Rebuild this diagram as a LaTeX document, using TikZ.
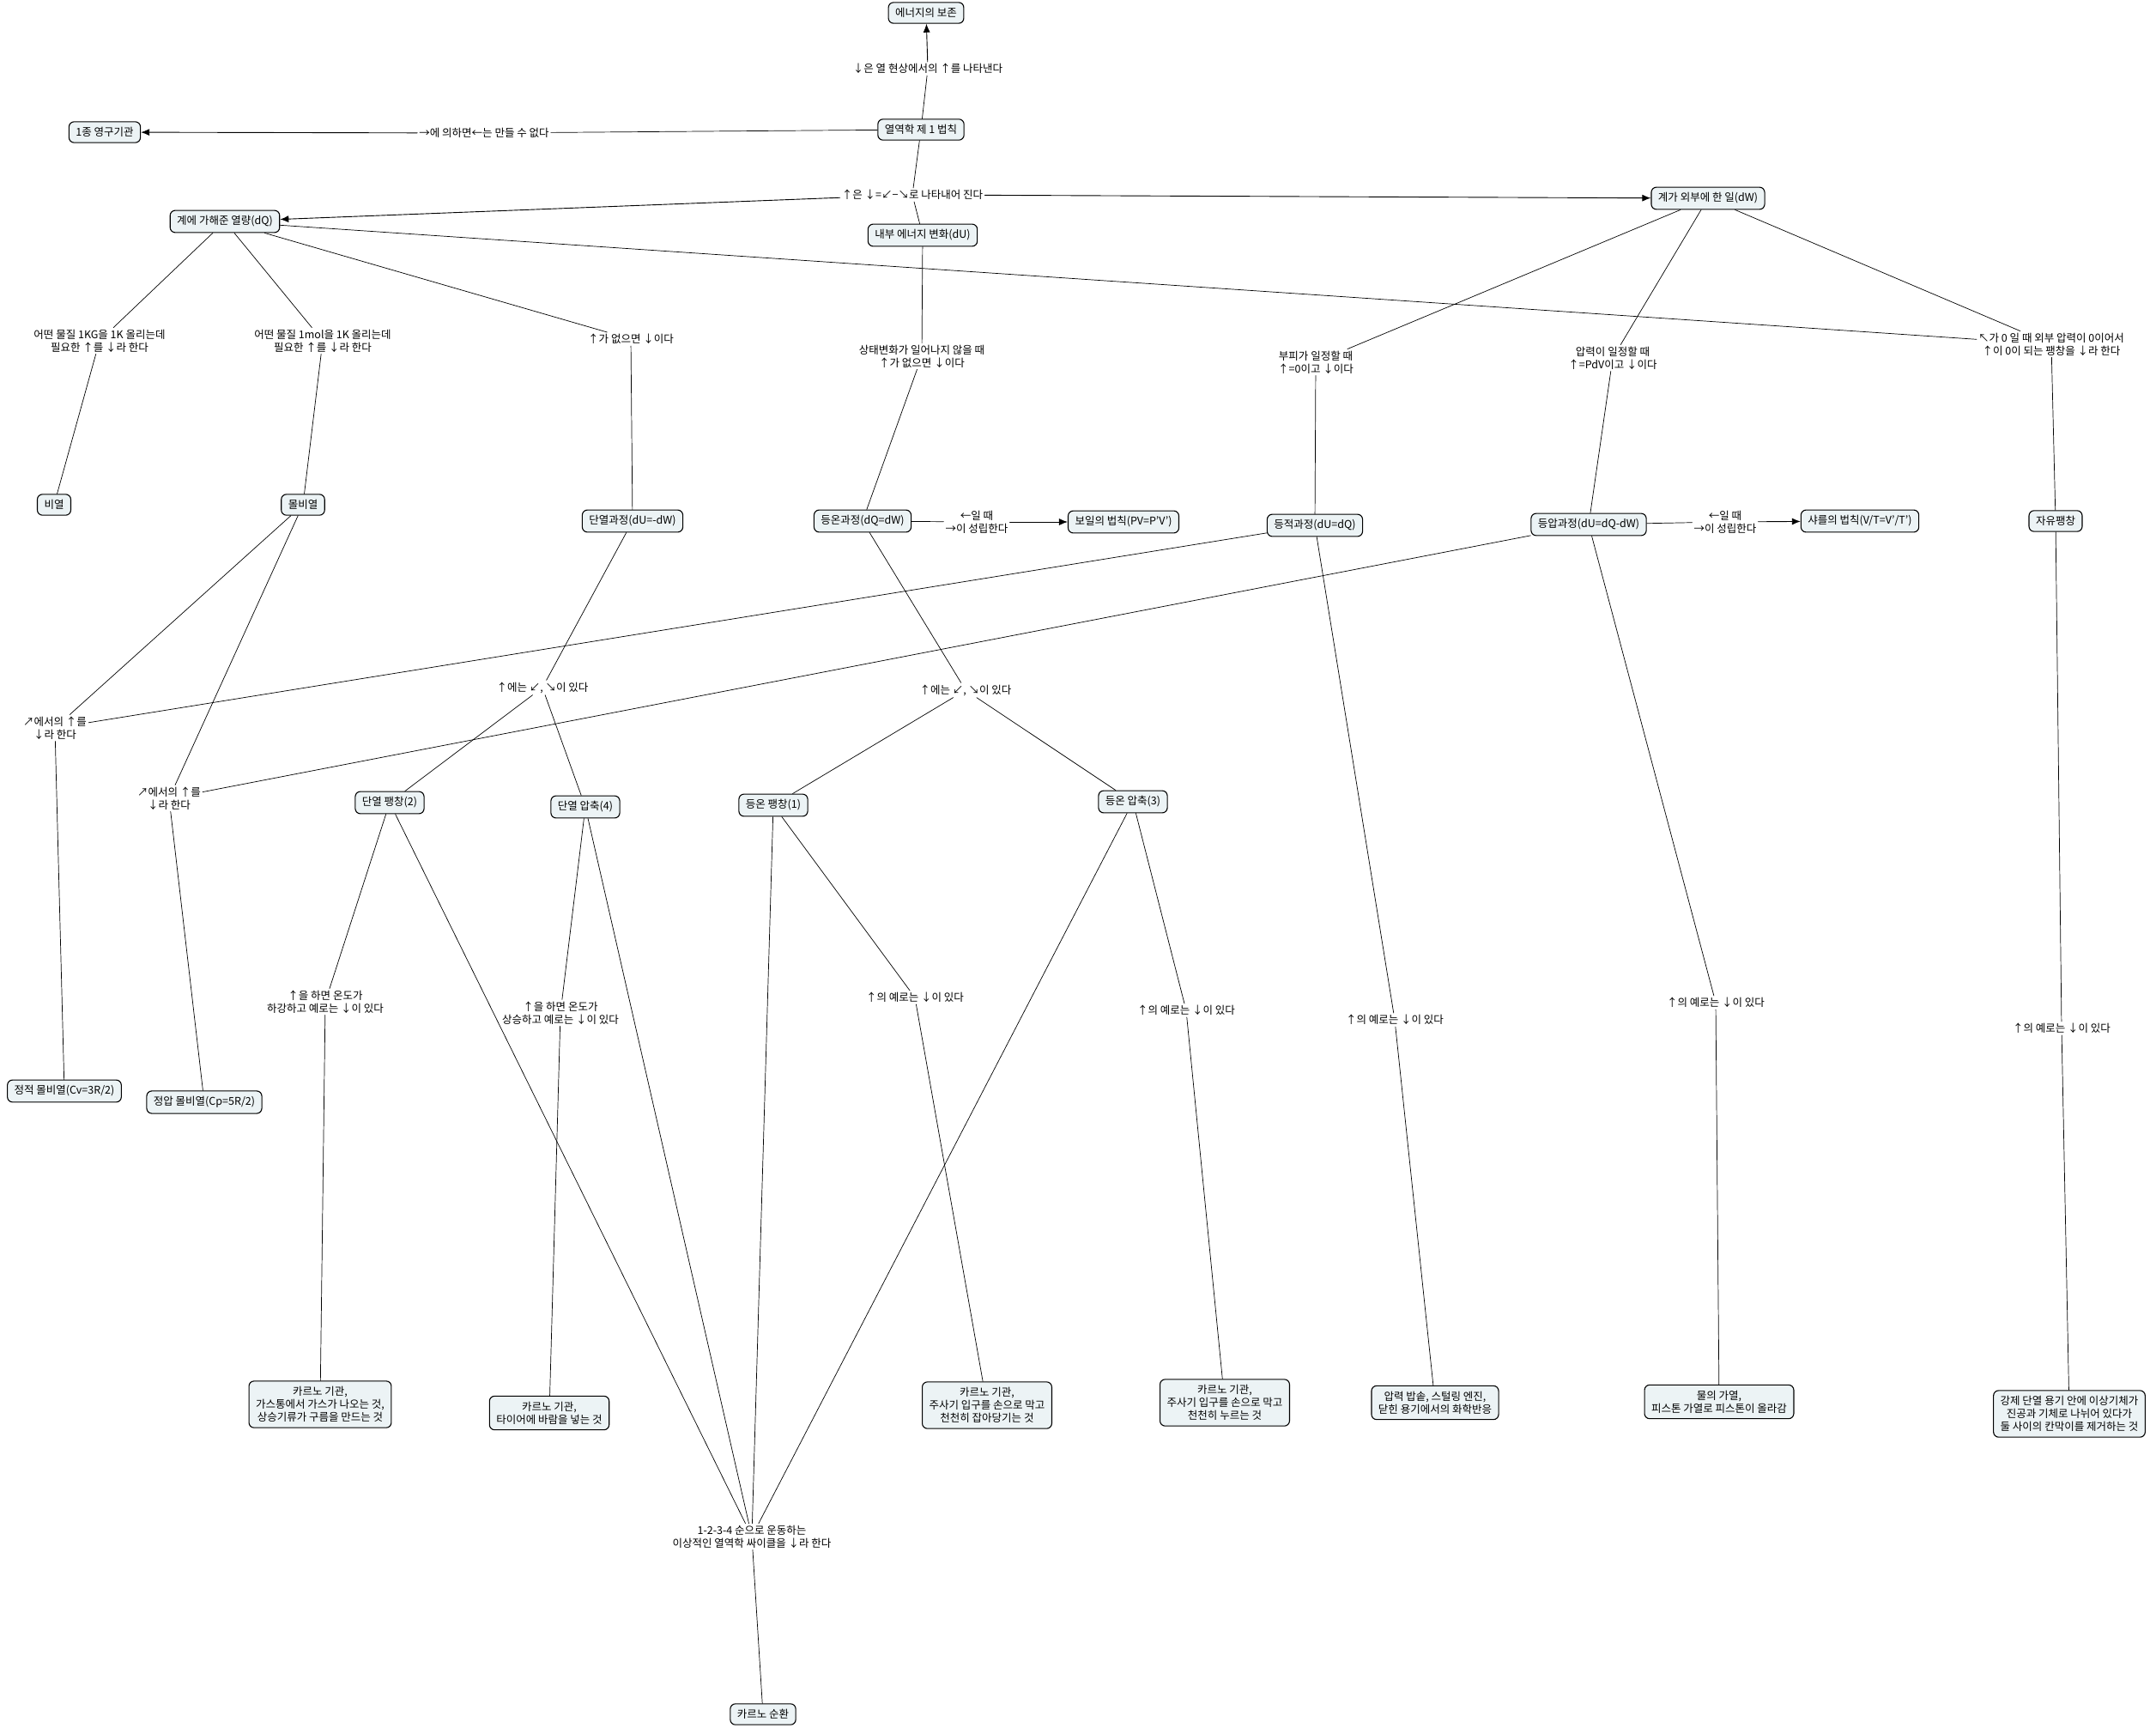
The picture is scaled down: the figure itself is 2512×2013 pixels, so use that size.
\documentclass[tikz,border=0pt]{standalone}
\usepackage{fontspec}
\setmainfont{Noto Sans CJK KR}
\usetikzlibrary{arrows.meta}
\definecolor{boxfill}{RGB}{236,243,245}
\begin{document}
\begin{tikzpicture}[x=1pt,y=-1pt,font=\fontsize{12.5}{15}\selectfont,line join=round,line cap=round,>={Latex[length=10pt,width=8pt]},
	box/.style={draw,rounded corners=6pt,fill=boxfill,line width=1.1pt,inner xsep=8pt,inner ysep=6.5pt,align=center},
	link/.style={inner sep=2pt,align=center}]
	\useasboundingbox (0,0) rectangle (2512,2013);
	% concepts
	\node[box] (energy) at (1079,15) {에너지의 보존};
	\node[box] (first) at (1073,151) {열역학 제 1 법칙};
	\node[box] (perpetual) at (122,154) {1종 영구기관};
	\node[box] (heat) at (262,258) {계에 가해준 열량(dQ)};
	\node[box] (dU) at (1075,274) {내부 에너지 변화(dU)};
	\node[box] (work) at (1990,231) {계가 외부에 한 일(dW)};
	\node[box] (bi) at (63,588) {비열};
	\node[box] (molbi) at (353,588) {몰비열};
	\node[box] (adia) at (737,607) {단열과정(dU=-dW)};
	\node[box] (iso) at (1005,607) {등온과정(dQ=dW)};
	\node[box] (boyle) at (1309,608) {보일의 법칙(PV=P'V')};
	\node[box] (isoch) at (1532,612) {등적과정(dU=dQ)};
	\node[box] (isob) at (1851,611) {등압과정(dU=dQ-dW)};
	\node[box] (charles) at (2167,607) {샤를의 법칙(V/T=V'/T')};
	\node[box] (free) at (2395,607) {자유팽창};
	\node[box] (adexp) at (454,935) {단열 팽창(2)};
	\node[box] (adcomp) at (682,940) {단열 압축(4)};
	\node[box] (isexp) at (901,938) {등온 팽창(1)};
	\node[box] (iscomp) at (1320,934) {등온 압축(3)};
	\node[box] (cv) at (75,1271) {정적 몰비열(Cv=3R/2)};
	\node[box] (cp) at (238,1284) {정압 몰비열(Cp=5R/2)};
	\node[box] (ex1) at (373,1636) {카르노 기관,\\가스통에서 가스가 나오는 것,\\상승기류가 구름을 만드는 것};
	\node[box] (ex2) at (640,1646) {카르노 기관,\\타이어에 바람을 넣는 것};
	\node[box] (ex3) at (1150,1637) {카르노 기관,\\주사기 입구를 손으로 막고\\천천히 잡아당기는 것};
	\node[box] (ex4) at (1427,1634) {카르노 기관,\\주사기 입구를 손으로 막고\\천천히 누르는 것};
	\node[box] (ex5) at (1672,1634) {압력 밥솥, 스털링 엔진,\\닫힌 용기에서의 화학반응};
	\node[box] (ex6) at (2003,1633) {물의 가열,\\피스톤 가열로 피스톤이 올라감};
	\node[box] (ex7) at (2411,1647) {강제 단열 용기 안에 이상기체가\\진공과 기체로 나뉘어 있다가\\둘 사이의 칸막이를 제거하는 것};
	\node[box] (carnot) at (889,1997) {카르노 순환};
	% linking phrases
	\node[link] (l1) at (1081,80) {↓은 열 현상에서의 ↑를 나타낸다};
	\node[link] (l2) at (564,155) {→에 의하면←는 만들 수 없다};
	\node[link] (l3) at (1063,227) {↑은 ↓=↙−↘로 나타내어 진다};
	\node[link] (l4) at (116,397) {어떤 물질 1KG을 1K 올리는데\\필요한 ↑를 ↓라 한다};
	\node[link] (l5) at (376,397) {어떤 물질 1mol을 1K 올리는데\\필요한 ↑를 ↓라 한다};
	\node[link] (l6) at (735,395) {↑가 없으면 ↓이다};
	\node[link] (l7) at (2390,401) {↖가 0 일 때 외부 압력이 0이어서\\↑이 0이 되는 팽창을 ↓라 한다};
	\node[link] (l8) at (1533,422) {부피가 일정할 때\\↑=0이고 ↓이다};
	\node[link] (l9) at (1879,417) {압력이 일정할 때\\↑=PdV이고 ↓이다};
	\node[link] (l10) at (1074,415) {상태변화가 일어나지 않을 때\\↑가 없으면 ↓이다};
	\node[link] (l11) at (1138,608) {←일 때\\→이 성립한다};
	\node[link] (l12) at (2010,608) {←일 때\\→이 성립한다};
	\node[link] (l13) at (64,848) {↗에서의 ↑를\\↓라 한다};
	\node[link] (l14) at (197,930) {↗에서의 ↑를\\↓라 한다};
	\node[link] (l15) at (632,801) {↑에는 ↙, ↘이 있다};
	\node[link] (l16) at (1125,804) {↑에는 ↙, ↘이 있다};
	\node[link] (l17) at (379,1167) {↑을 하면 온도가\\하강하고 예로는 ↓이 있다};
	\node[link] (l18) at (653,1180) {↑을 하면 온도가\\상승하고 예로는 ↓이 있다};
	\node[link] (l19) at (1066,1162) {↑의 예로는 ↓이 있다};
	\node[link] (l20) at (1382,1177) {↑의 예로는 ↓이 있다};
	\node[link] (l21) at (1625,1188) {↑의 예로는 ↓이 있다};
	\node[link] (l22) at (1999,1168) {↑의 예로는 ↓이 있다};
	\node[link] (l23) at (2402,1198) {↑의 예로는 ↓이 있다};
	\node[link] (l24) at (876,1790) {1-2-3-4 순으로 운동하는\\이상적인 열역학 싸이클을 ↓라 한다};
	% connectors
	\foreach \a/\b in {first/l1,first/l2,first/l3,l3/dU,heat/l4,l4/bi,heat/l5,l5/molbi,heat/l6,l6/adia,heat/l7,work/l7,l7/free,
		work/l8,l8/isoch,work/l9,l9/isob,dU/l10,l10/iso,iso/l11,isob/l12,molbi/l13,isoch/l13,l13/cv,molbi/l14,isob/l14,l14/cp,
		adia/l15,l15/adexp,l15/adcomp,iso/l16,l16/isexp,l16/iscomp,adexp/l17,l17/ex1,adcomp/l18,l18/ex2,isexp/l19,l19/ex3,
		iscomp/l20,l20/ex4,isoch/l21,l21/ex5,isob/l22,l22/ex6,free/l23,l23/ex7,adexp/l24,adcomp/l24,isexp/l24,iscomp/l24,l24/carnot}
		\draw[line width=0.7pt] (\a)--(\b);
	\foreach \a/\b in {l1/energy,l2/perpetual,l3/heat,l3/work,l11/boyle,l12/charles}
		\draw[->,line width=0.9pt] (\a)--(\b);
\end{tikzpicture}
\end{document}
